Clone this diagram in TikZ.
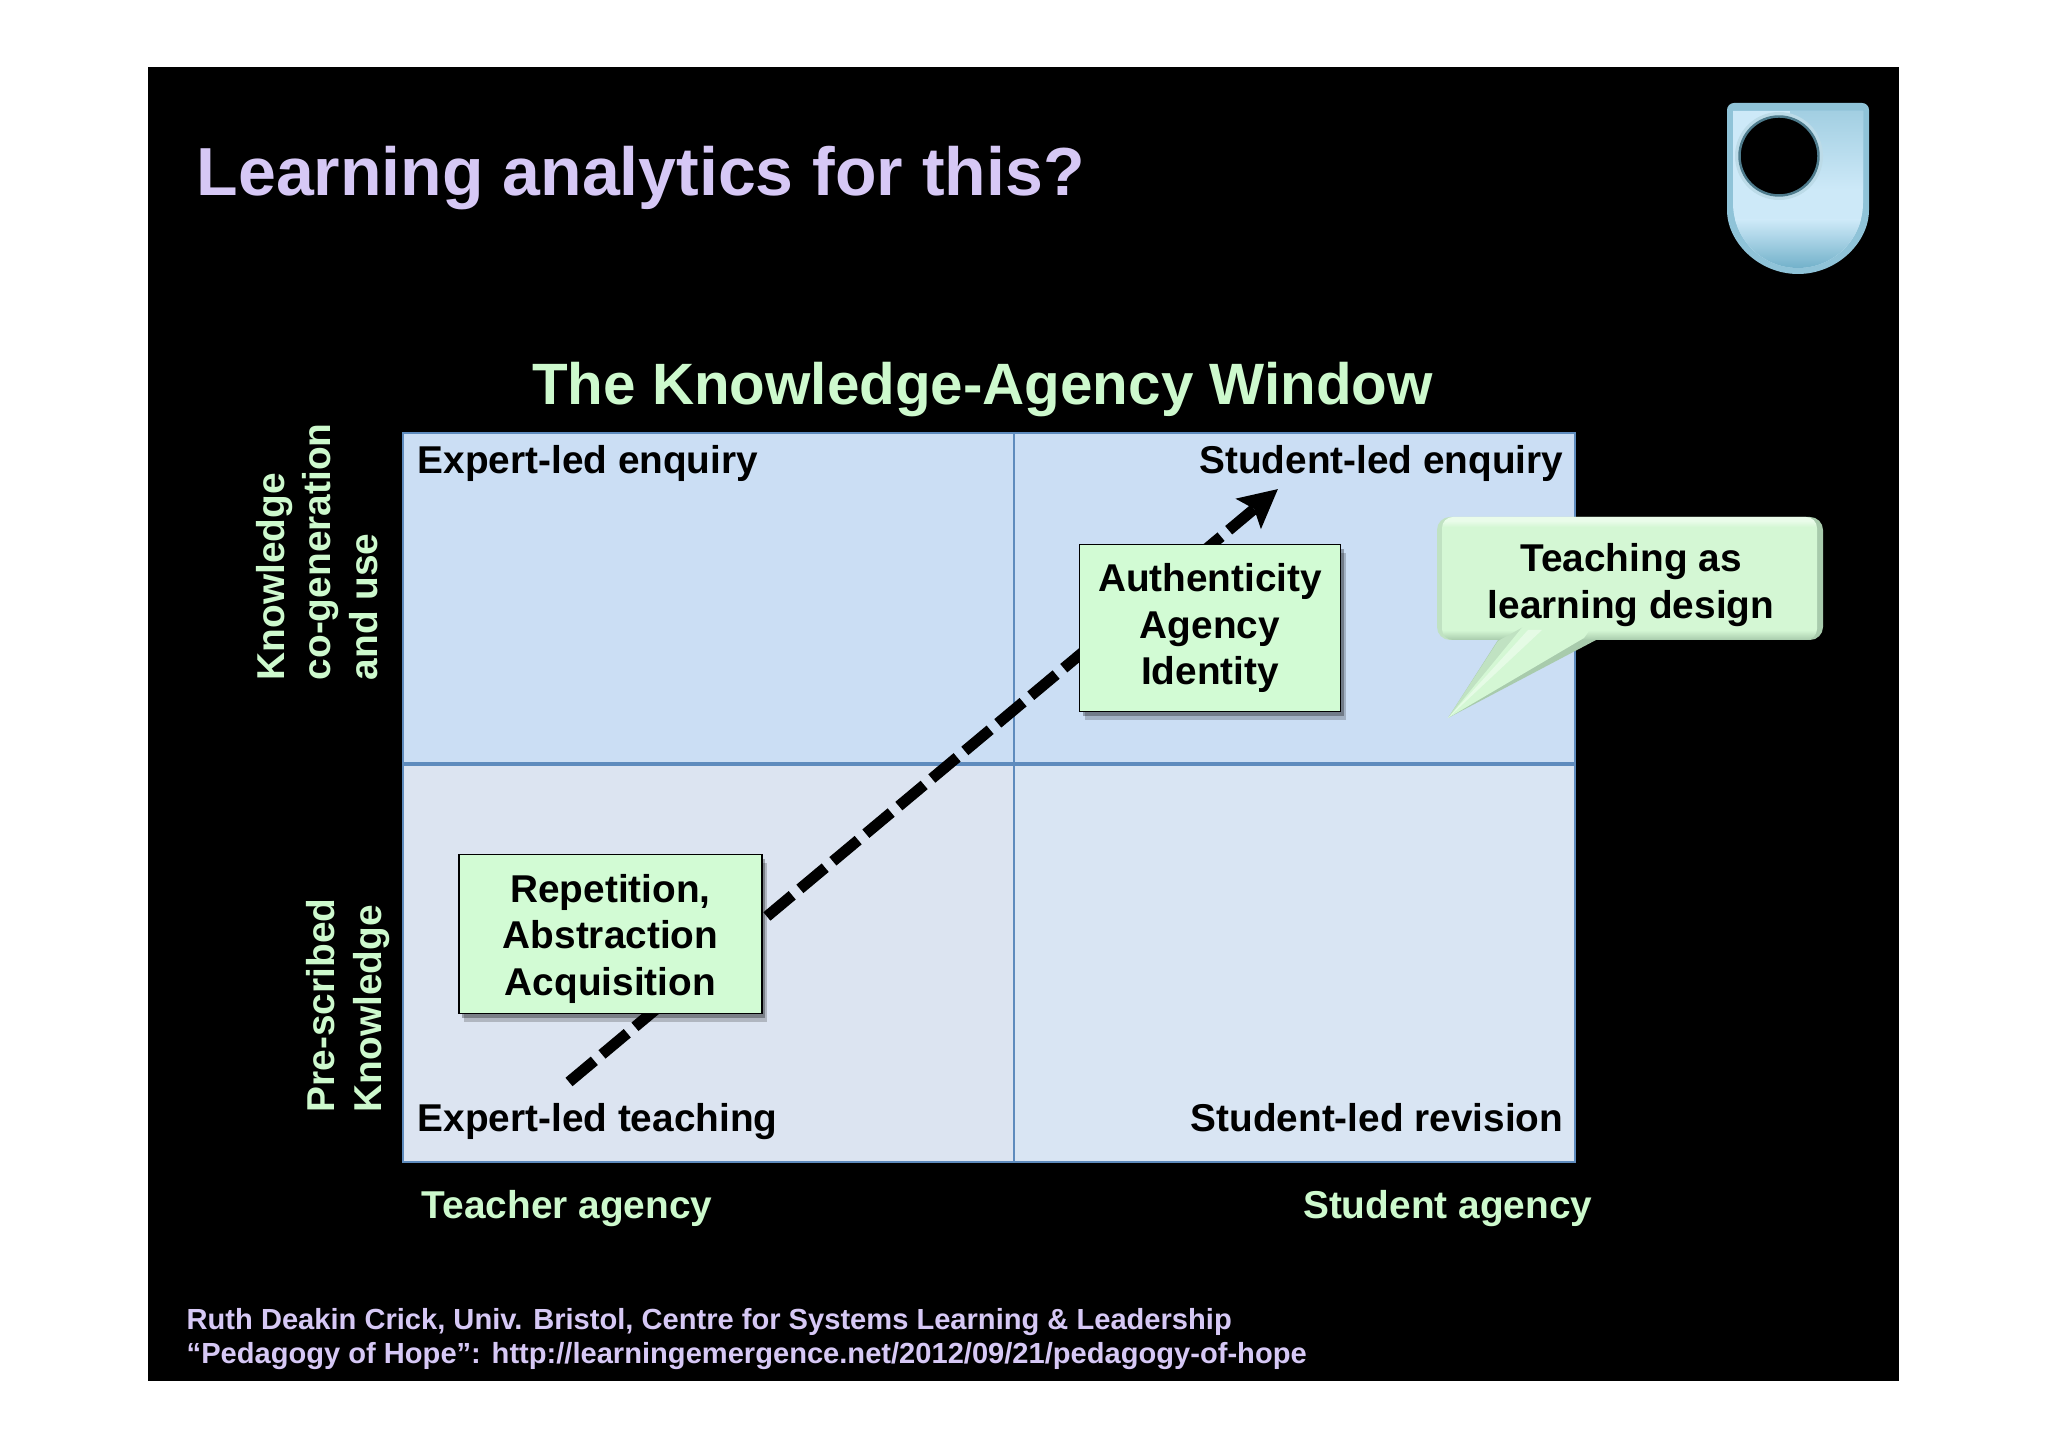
\documentclass[tikz,border=0pt]{standalone}
\usepackage{fontspec}
\setmainfont{Liberation Sans}
\usetikzlibrary{arrows.meta,shadows}
\definecolor{slidelilac}{HTML}{D6C8F5}
\definecolor{slidegreen}{HTML}{CDF9CD}
\definecolor{gridline}{HTML}{5E8BBD}
\definecolor{cellup}{HTML}{CBDEF4}
\definecolor{cellleft}{HTML}{DCE4F1}
\definecolor{cellright}{HTML}{D9E5F3}
\definecolor{boxgreen}{HTML}{D2FBD4}
\definecolor{logoedge}{HTML}{8FC3D8}
\definecolor{logoface}{HTML}{CDE9F8}
\definecolor{logodark}{HTML}{6FAFC8}
\definecolor{calloutface}{HTML}{D4F7D4}
\definecolor{calloutlight}{HTML}{EAFCEA}
\definecolor{calloutdark}{HTML}{A8CBAC}
\definecolor{calloutside}{HTML}{C0E2C2}
\pgfdeclareverticalshading{calloutbevel}{100bp}{color(0bp)=(calloutdark); color(25bp)=(calloutdark);
  color(29bp)=(calloutface); color(71bp)=(calloutface); color(73.5bp)=(calloutlight); color(100bp)=(calloutlight)}
\tikzset{
  heading/.style={text=slidelilac,font=\bfseries\fontsize{19.35}{23}\selectfont,inner sep=0},
  windowtitle/.style={text=slidegreen,font=\bfseries\fontsize{16.6}{20}\selectfont,inner sep=0},
  axislabel/.style={text=slidegreen,font=\bfseries\fontsize{11.05}{13.2}\selectfont,inner sep=0},
  sidelabel/.style={axislabel,rotate=90,anchor=west,align=left},
  cornerlabel/.style={text=black,font=\bfseries\fontsize{11.03}{13.2}\selectfont,inner sep=0},
  source/.style={text=slidelilac,font=\bfseries\fontsize{8.28}{10}\selectfont,inner sep=0,anchor=west},
  greenbox/.style={draw=black,line width=.5pt,fill=boxgreen,text=black,align=center,
    font=\bfseries\fontsize{11.03}{13.1}\selectfont,inner sep=0,
    drop shadow={shadow xshift=.05,shadow yshift=-.09,opacity=.2,fill=black},
    drop shadow={shadow xshift=.03,shadow yshift=-.05,opacity=.3,fill=black}},
  dashedarrow/.style={line width=.11cm,dash pattern=on .33cm off .10cm,
    -{Stealth[length=.38cm,width=.38cm,inset=.07cm]}}
}
\begin{document}
\begin{tikzpicture}
  \useasboundingbox (0,-14.47) rectangle (20.48,0);
  \fill[black] (1.48,-.67) rectangle (18.99,-13.81);

  \node[heading,anchor=west] (mainhead) at (1.96,-1.78) {Learning analytics for this?};
  \node[windowtitle] (windowhead) at (9.825,-3.90) {The Knowledge-Agency Window};

  \fill[logoedge,rounded corners=2pt] (17.27,-1.03)--(18.69,-1.03)--(18.69,-2.03)
    arc (0:-180:.71)--cycle;
  \fill[logoface] (17.33,-1.11)--(18.63,-1.11)--(18.63,-2.03) arc (0:-180:.65)--cycle;
  \begin{scope}
    \clip (17.33,-1.11)--(18.63,-1.11)--(18.63,-2.03) arc (0:-180:.65)--cycle;
    \shade[top color=logoface,bottom color=logodark] (17.3,-2.2) rectangle (18.7,-2.7);
    \shade[shading angle=35,top color=logoedge!70!logoface,bottom color=logoface] (17.9,-1.1) rectangle (18.7,-1.9);
  \end{scope}
  \fill[logoedge!60!white] (17.79,-1.56) circle (.44);
  \fill[black,draw=logodark!70!black,line width=.7pt] (17.79,-1.56) circle (.395);

  \fill[cellup] (4.03,-4.33) rectangle (15.75,-7.64);
  \fill[cellleft] (4.03,-7.64) rectangle (10.14,-11.62);
  \fill[cellright] (10.14,-7.64) rectangle (15.75,-11.62);
  \draw[gridline,line width=.8pt] (10.14,-4.33)--(10.14,-11.62);
  \draw[gridline,line width=1.3pt] (4.03,-7.64)--(15.75,-7.64);
  \draw[gridline,line width=.8pt] (4.03,-4.33) rectangle (15.75,-11.62);

  \node[cornerlabel,anchor=base west] (expertenquiry) at (4.17,-4.74) {Expert-led enquiry};
  \node[cornerlabel,anchor=base east] (studentenquiry) at (15.64,-4.74) {Student-led enquiry};
  \node[cornerlabel,anchor=base west] (expertteaching) at (4.17,-11.32) {Expert-led teaching};
  \node[cornerlabel,anchor=base east] (studentrevision) at (15.64,-11.32) {Student-led revision};

  \coordinate (pathstart) at (5.69,-10.82);
  \coordinate (pathend) at (12.78,-4.89);
  \draw[dashedarrow] (pathstart)--(pathend);

  \node[greenbox,minimum width=3.03cm,minimum height=1.59cm] (lowbox) at (6.105,-9.34)
    {\rule{0pt}{.38cm}Repetition,\\Abstraction\\Acquisition};
  \node[greenbox,minimum width=2.61cm,minimum height=1.67cm] (highbox) at (12.10,-6.28)
    {Authenticity\\Agency\\Identity};

  \shade[rounded corners=.13cm,left color=calloutside,right color=calloutdark] (14.37,-5.17) rectangle (18.23,-6.40);
  \shade[rounded corners=.11cm,shading=calloutbevel] (14.42,-5.17) rectangle (18.17,-6.40);
  \fill[calloutdark] (14.98,-6.40)--(15.96,-6.40)--(14.48,-7.18)--cycle;
  \fill[calloutside] (14.98,-6.41)--(15.25,-6.26)--(14.48,-7.18)--cycle;
  \fill[calloutface] (15.25,-6.24)--(15.94,-6.24)--(15.84,-6.38)--(14.48,-7.18)--cycle;
  \fill[calloutlight,opacity=.8] (15.28,-6.30)--(15.42,-6.30)--(14.48,-7.18)--cycle;
  \node[cornerlabel,align=center] (callouttext) at (16.31,-5.85) {Teaching as\\learning design};

  \node[sidelabel] (upperaxis) at (3.17,-6.81) {Knowledge\\co-generation\\and use};
  \node[sidelabel] (loweraxis) at (3.48,-11.13) {Pre-scribed\\Knowledge};
  \node[axislabel,anchor=west] (teacheragency) at (4.21,-12.09) {Teacher agency};
  \node[axislabel,anchor=east] (studentagency) at (15.93,-12.09) {Student agency};

  \node[source] (sourceone) at (1.86,-13.22) {Ruth Deakin Crick, Univ. Bristol, Centre for Systems Learning \& Leadership};
  \node[source] (sourcetwo) at (1.86,-13.56) {“Pedagogy of Hope”: http://learningemergence.net/2012/09/21/pedagogy-of-hope};
\end{tikzpicture}
\end{document}
